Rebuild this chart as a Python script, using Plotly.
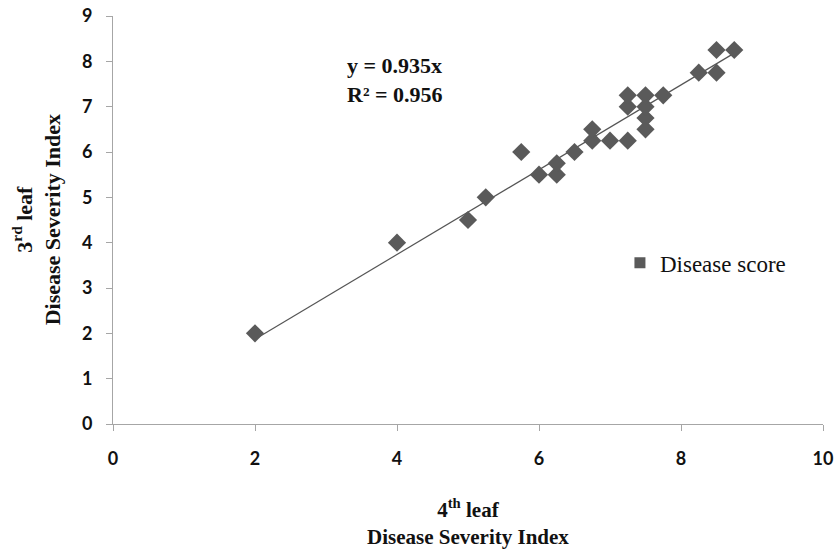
import plotly.graph_objects as go

leaf4 = [2.0, 4.0, 5.0, 5.25, 5.75, 6.0, 6.25, 6.25, 6.5, 6.75, 6.75, 7.0, 7.25, 7.25, 7.25,
         7.5, 7.5, 7.5, 7.5, 7.75, 8.25, 8.5, 8.5, 8.75]
leaf3 = [2.0, 4.0, 4.5, 5.0, 6.0, 5.5, 5.5, 5.75, 6.0, 6.25, 6.5, 6.25, 6.25, 7.0, 7.25,
         6.5, 6.75, 7.0, 7.25, 7.25, 7.75, 7.75, 8.25, 8.25]
slope = 0.935
r2 = 0.956
x_ticks = [0, 2, 4, 6, 8, 10]
y_ticks = [0, 1, 2, 3, 4, 5, 6, 7, 8, 9]
trend_x = [min(leaf4), max(leaf4)]
trend_y = [slope * v for v in trend_x]

marker_color = "#5a5a5a"
serif = "Liberation Serif, Times New Roman, serif"

fig = go.Figure()
fig.add_trace(go.Scatter(x=trend_x, y=trend_y, mode="lines",
                         line=dict(color="#555555", width=1.2), showlegend=False, hoverinfo="skip"))
fig.add_trace(go.Scatter(x=leaf4, y=leaf3, mode="markers", name="Disease score",
                         marker=dict(symbol="diamond", size=14, color=marker_color),
                         showlegend=False))
fig.add_trace(go.Scatter(x=[None], y=[None], mode="markers", name="Disease score",
                         marker=dict(symbol="square", size=11, color=marker_color)))

tickfont = dict(family="Lato, Open Sans, sans-serif", size=18, color="#111111", weight="bold")

fig.update_layout(
    width=837, height=550,
    margin=dict(l=113, r=14, t=16, b=126),
    plot_bgcolor="white", paper_bgcolor="white",
    xaxis=dict(range=[0, 10], tickvals=x_ticks, showgrid=False, zeroline=False,
               showline=True, linecolor="#a6a6a6", linewidth=1, automargin=False,
               ticks="outside", tickcolor="#a6a6a6", ticklen=6, ticklabelstandoff=12,
               ticklabeloverflow="allow", tickfont=tickfont),
    yaxis=dict(range=[0, 9], tickvals=y_ticks, showgrid=False, zeroline=False,
               showline=True, linecolor="#a6a6a6", linewidth=1, automargin=False,
               ticks="outside", tickcolor="#a6a6a6", ticklen=6, ticklabelstandoff=10,
               ticklabeloverflow="allow", tickfont=tickfont),
    legend=dict(x=0.714, y=0.395, xanchor="left", yanchor="middle",
                font=dict(family=serif, size=23, color="#111111"),
                bgcolor="rgba(0,0,0,0)", itemwidth=30, tracegroupgap=0),
    showlegend=True,
)
fig.add_annotation(text="<b>4<sup>th</sup> leaf<br>Disease Severity Index</b>",
                   xref="paper", yref="paper", x=0.5, y=-0.24, xanchor="center", yanchor="middle",
                   showarrow=False, font=dict(family=serif, size=21, color="#111111"))
fig.add_annotation(text="<b>3<sup>rd</sup> leaf<br>Disease Severity Index</b>",
                   xref="paper", yref="paper", x=-0.108, y=0.5, xanchor="center", yanchor="middle",
                   textangle=-90, showarrow=False, borderpad=0,
                   font=dict(family=serif, size=22, color="#111111"))
fig.add_annotation(text=f"<b>y = {slope}x<br>R² = {r2}</b>", xref="paper", yref="paper",
                   x=0.327, y=0.843, xanchor="left", yanchor="middle", showarrow=False, align="left",
                   font=dict(family=serif, size=22, color="#111111"))
# remove the browser's default 8px body margin so the 837x550 figure fills the window
fig.write_html("out.html", config={"displayModeBar": False},
               post_script="document.body.style.margin='0px';")
